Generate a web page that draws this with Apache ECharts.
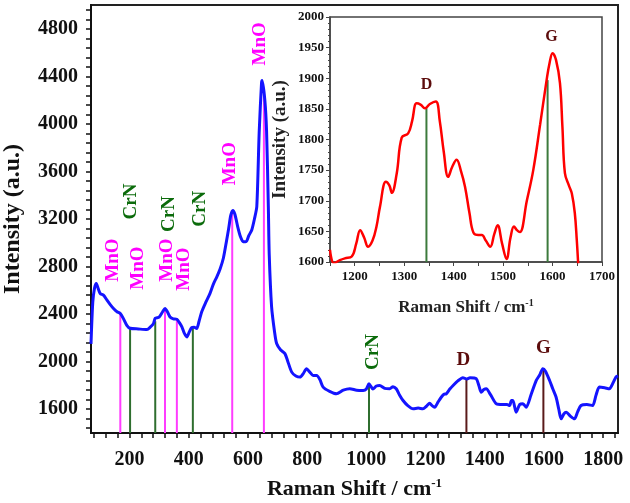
<!DOCTYPE html>
<html>
<head>
<meta charset="utf-8">
<script src="https://cdn.jsdelivr.net/npm/echarts@6/dist/echarts.min.js"></script>
<style>
html,body{margin:0;padding:0;background:#fff;}
#c{width:630px;height:503px;}
</style>
</head>
<body>
<div id="c"></div>
<script>
// ---------- Main spectrum (blue) ----------
const mainShift = [70,76,82,88,95,101,112,124,135,146,158,169,180,191,202,230,259,270,281,287,300,312,320,328,337,348,360,368,377,385,394,402,410,418,427,435,444,458,472,483,495,506,517,528,535,542,549,556,566,575,584,594,603,613,622,630,638,646,648,657,663,669,672,680,690,697,710,725,735,748,762,776,787,798,809,820,832,843,854,876,899,922,944,967,989,1000,1009,1016,1022,1034,1045,1062,1079,1090,1101,1112,1124,1140,1158,1175,1191,1203,1214,1222,1231,1242,1253,1262,1270,1282,1293,1310,1326,1340,1350,1371,1380,1388,1397,1405,1420,1439,1460,1475,1484,1490,1495,1506,1518,1529,1540,1556,1574,1586,1596,1605,1619,1630,1641,1650,1658,1667,1675,1690,1703,1714,1725,1745,1764,1776,1787,1805,1821,1833,1843,1850];
const mainIntensity = [2150,2500,2620,2658,2610,2574,2560,2517,2480,2447,2420,2405,2360,2306,2281,2275,2270,2290,2320,2365,2375,2420,2447,2420,2376,2360,2357,2330,2292,2240,2208,2250,2287,2290,2279,2340,2419,2500,2574,2650,2714,2780,2870,3020,3120,3230,3271,3240,3130,3050,3009,3010,3060,3108,3200,3305,3924,4346,4366,4205,3940,3302,2900,2461,2250,2152,2100,2068,2000,1912,1880,1870,1900,1941,1912,1884,1884,1850,1786,1750,1730,1760,1772,1760,1758,1770,1814,1790,1770,1795,1800,1775,1772,1790,1772,1720,1673,1630,1603,1610,1603,1625,1651,1630,1617,1660,1701,1725,1730,1770,1800,1840,1865,1855,1865,1857,1800,1743,1765,1772,1720,1646,1640,1640,1631,1673,1673,1575,1640,1646,1617,1720,1842,1890,1941,1920,1842,1770,1701,1600,1519,1560,1575,1540,1519,1580,1631,1640,1631,1720,1786,1780,1772,1820,1870,1880];

// ---------- Inset spectrum (red) ----------
const insetShift = [1150,1158,1170,1180,1194,1203,1211,1219,1227,1236,1244,1251,1263,1270,1275,1285,1295,1308,1316,1325,1333,1342,1352,1364,1372,1380,1389,1397,1406,1415,1423,1432,1440,1450,1457,1465,1474,1482,1489,1498,1507,1515,1522,1528,1534,1548,1561,1575,1588,1594,1600,1607,1615,1620,1625,1633,1639,1645,1649,1652];
const insetIntensity = [1620,1598,1603,1606,1609,1630,1652,1640,1625,1635,1658,1690,1731,1725,1713,1745,1803,1810,1830,1859,1857,1851,1858,1862,1830,1780,1739,1755,1767,1748,1723,1680,1648,1644,1644,1635,1625,1645,1660,1630,1605,1640,1658,1652,1649,1700,1750,1825,1897,1925,1941,1930,1892,1820,1745,1725,1712,1680,1636,1595];

// ---------- Peak assignments ----------
const mnoPeakShift = [169,320,360,547,654];
const mnoPeakTop   = [2405,2447,2357,3271,4300];
const crnPeakShift = [202,287,414,1009];
const crnPeakTop   = [2290,2340,2300,1814];
const carbonPeakShift = [1338,1598];
const carbonPeakTop   = [1862,1941];
const insetPeakShift = [1345,1590];
const insetPeakTop   = [1851,1897];

// annotation anchors (data coordinates)
const mnoLabelShift = [143,228,327,386,541,642];
const mnoLabelInt   = [2855,2787,2855,2779,3665,4674];
const crnLabelShift = [204,334,440,1023];
const crnLabelInt   = [3347,3242,3286,2081];
const carbonLabels = ['D','G'];
const carbonLabelShift = [1328,1598];
const carbonLabelInt   = [2011,2112];
const insetLabelShift = [1345,1598];
const insetLabelInt   = [1889,1968];

// ---------- Axis ticks ----------
const xTickLabels = [200,400,600,800,1000,1200,1400,1600,1800];
const yTickLabels = [1600,2000,2400,2800,3200,3600,4000,4400,4800];
const insetXTickLabels = [1200,1300,1400,1500,1600,1700];
const insetYTickLabels = [1600,1650,1700,1750,1800,1850,1900,1950,2000];
const xMinorStep = 40, yMinorStep = 80, insetXMinorStep = 50;

const X_MIN = 70, X_MAX = 1850, Y_MIN = 1400, Y_MAX = 5000;
const IX_MIN = 1150, IX_MAX = 1700, IY_MIN = 1600, IY_MAX = 2000;

function tickRange(start, end, step){ const a=[]; for(let v=start; v<=end+1e-9; v+=step) a.push(v); return a; }
const xAllTicks = tickRange(80, 1840, xMinorStep);
const yAllTicks = tickRange(1440, 4960, yMinorStep);
const ixAllTicks = tickRange(1150, 1700, insetXMinorStep);

const FONT = '"Liberation Serif","Times New Roman",serif';
const zip = (a,b) => a.map((v,i)=>[v,b[i]]);
const plain = v => String(v);

function lineSeries(xs, tops, color, xi, yi, ymin, width){
  return {
    type:'custom', xAxisIndex:xi, yAxisIndex:yi, z:3,
    data: zip(xs,tops),
    renderItem:(params, api)=>{
      const p1 = api.coord([api.value(0), ymin]);
      const p2 = api.coord([api.value(0), api.value(1)]);
      return {type:'line', shape:{x1:p1[0],y1:p1[1],x2:p2[0],y2:p2[1]}, style:{stroke:color, lineWidth:width}};
    }
  };
}
function textSeries(xs, ys, texts, color, size, rotate, xi, yi){
  return {
    type:'custom', xAxisIndex:xi, yAxisIndex:yi, z:4,
    data: xs.map((x,i)=>[x, ys[i], i]),
    renderItem:(params, api)=>{
      const p = api.coord([api.value(0), api.value(1)]);
      return {type:'text', x:p[0], y:p[1], rotation: rotate ? Math.PI/2 : 0,
        style:{text: texts[api.value(2)], fill: color, font: 'bold '+size+'px '+FONT, align:'center', verticalAlign:'middle'}};
    }
  };
}

const lblStyle = (size)=>({fontFamily:FONT, fontWeight:'bold', color:'#111', fontSize:size, formatter:plain});

const option = {
  animation:false,
  backgroundColor:'#fff',
  grid:[
    {left:91, right:12, top:5, bottom:70, show:true, borderColor:'#222', borderWidth:2, backgroundColor:'transparent', containLabel:false, outerBoundsMode:'none'},
    {left:330, right:28, top:17, bottom:241, show:true, borderColor:'#444', borderWidth:1.5, backgroundColor:'#fff', containLabel:false, outerBoundsMode:'none'}
  ],
  xAxis:[
    {type:'value', gridIndex:0, min:X_MIN, max:X_MAX, position:'bottom',
     name:'{n|Raman Shift / cm}{s|-1}', nameLocation:'middle', nameGap:44,
     nameTextStyle:{rich:{n:{fontFamily:FONT, fontWeight:'bold', fontSize:22, color:'#111', lineHeight:24}, s:{fontFamily:FONT, fontWeight:'bold', fontSize:13, color:'#111', verticalAlign:'top'}}},
     axisLine:{lineStyle:{color:'#111', width:2}},
     axisTick:{show:true, customValues:xAllTicks, length:5, lineStyle:{color:'#111', width:1.5}},
     axisLabel:{customValues:xTickLabels, margin:17, ...lblStyle(20)},
     splitLine:{show:false}},
    {type:'value', gridIndex:1, min:IX_MIN, max:IX_MAX, position:'bottom',
     name:'{n|Raman Shift / cm}{s|-1}', nameLocation:'middle', nameGap:36,
     nameTextStyle:{rich:{n:{fontFamily:FONT, fontWeight:'bold', fontSize:17, color:'#222', lineHeight:19}, s:{fontFamily:FONT, fontWeight:'bold', fontSize:10, color:'#222', verticalAlign:'top'}}},
     axisLine:{lineStyle:{color:'#444', width:1.5}},
     axisTick:{show:true, customValues:ixAllTicks, length:4, lineStyle:{color:'#444'}},
     axisLabel:{customValues:insetXTickLabels, margin:8, ...lblStyle(13)},
     splitLine:{show:false}}
  ],
  yAxis:[
    {type:'value', gridIndex:0, min:Y_MIN, max:Y_MAX, position:'left',
     name:'Intensity (a.u.)', nameLocation:'middle', nameGap:66,
     nameTextStyle:{fontFamily:FONT, fontWeight:'bold', fontSize:24, color:'#111'},
     axisLine:{lineStyle:{color:'#111', width:2}},
     axisTick:{show:true, customValues:yAllTicks, length:5, lineStyle:{color:'#111', width:1.5}},
     axisLabel:{customValues:yTickLabels, margin:13, ...lblStyle(20)},
     splitLine:{show:false}},
    {type:'value', gridIndex:1, min:IY_MIN, max:IY_MAX, interval:50, position:'left',
     name:'Intensity (a.u.)', nameLocation:'middle', nameGap:40,
     nameTextStyle:{fontFamily:FONT, fontWeight:'bold', fontSize:19, color:'#222'},
     axisLine:{lineStyle:{color:'#444', width:1.5}},
     axisTick:{show:true, length:4, lineStyle:{color:'#444'}},
     minorTick:{show:true, splitNumber:5, length:2, lineStyle:{color:'#444'}},
     axisLabel:{margin:6, ...lblStyle(13)},
     splitLine:{show:false}}
  ],
  series:[
    lineSeries(mnoPeakShift, mnoPeakTop, '#ff3cff', 0, 0, Y_MIN, 2),
    lineSeries(crnPeakShift, crnPeakTop, '#2f6e2f', 0, 0, Y_MIN, 2),
    lineSeries(carbonPeakShift, carbonPeakTop, '#5a1a1a', 0, 0, Y_MIN, 2),
    {type:'line', xAxisIndex:0, yAxisIndex:0, data:zip(mainShift, mainIntensity), showSymbol:false, smooth:0.25,
     lineStyle:{color:'#1414ff', width:3}, z:5},
    lineSeries(insetPeakShift, insetPeakTop, '#3c7a3c', 1, 1, IY_MIN, 2),
    {type:'line', xAxisIndex:1, yAxisIndex:1, data:zip(insetShift, insetIntensity), showSymbol:false, smooth:0.4,
     lineStyle:{color:'#ff0000', width:2.5}, z:5},
    textSeries(mnoLabelShift, mnoLabelInt, mnoLabelShift.map(()=> 'MnO'), '#ff00ff', 19, true, 0, 0),
    textSeries(crnLabelShift, crnLabelInt, crnLabelShift.map(()=> 'CrN'), '#0b6b0b', 19, true, 0, 0),
    textSeries(carbonLabelShift, carbonLabelInt, carbonLabels, '#5c0c0c', 19, false, 0, 0),
    textSeries(insetLabelShift, insetLabelInt, carbonLabels, '#5c0c0c', 16, false, 1, 1)
  ]
};

const chart = echarts.init(document.getElementById('c'), null, {renderer:'canvas'});
chart.setOption(option);
</script>
</body>
</html>
